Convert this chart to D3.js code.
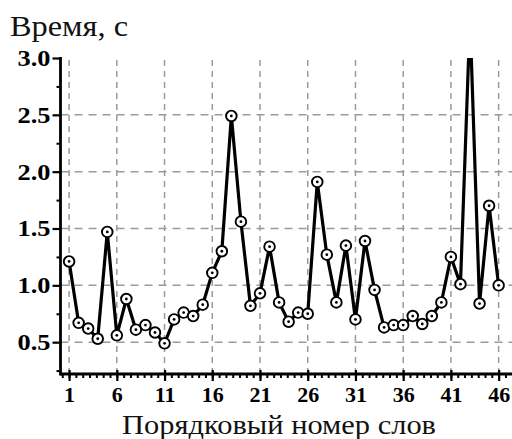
<!DOCTYPE html>
<html><head><meta charset="utf-8">
<script src="https://cdn.jsdelivr.net/npm/d3@7"></script>
<style>body{margin:0;background:#fff}svg{display:block}</style>
</head><body>
<svg id="c" width="512" height="439"></svg>
<script>
const words = d3.range(1, 47);
const times = [1.21,0.67,0.62,0.53,1.47,0.56,0.88,0.61,0.65,0.585,
  0.49,0.70,0.76,0.73,0.83,1.11,1.30,2.49,1.56,0.82,
  0.93,1.34,0.85,0.68,0.76,0.75,1.91,1.27,0.85,1.35,
  0.70,1.39,0.96,0.63,0.65,0.65,0.73,0.66,0.73,0.85,
  1.25,1.01,3.35,0.84,1.70,1.00];
const xTicks = [1,6,11,16,21,26,31,36,41,46];
const yTicks = [0.5,1.0,1.5,2.0,2.5,3.0];
const yTitle = "Время, с";
const xTitle = "Порядковый номер слов";

const svg = d3.select("#c");
const L = 60.5, R = 512, T = 58, B = 374;
const x = d3.scaleLinear().domain([0.1, 47.4]).range([L, R]);
const y = d3.scaleLinear().domain([0.22, 3.0]).range([B, T]);
const serif = "'Liberation Serif','Times New Roman',serif";

// grid
const grid = svg.append("g");
grid.selectAll("line.v").data(xTicks).join("line")
  .attr("x1", d => x(d)).attr("x2", d => x(d)).attr("y1", T + 2).attr("y2", B)
  .attr("stroke", "#9a9a9a").attr("stroke-width", 1.5).attr("stroke-dasharray", "6,5");
grid.selectAll("line.h").data(yTicks.filter(v => v < 3)).join("line")
  .attr("x1", L).attr("x2", R).attr("y1", d => y(d)).attr("y2", d => y(d))
  .attr("stroke", "#9a9a9a").attr("stroke-width", 1.5).attr("stroke-dasharray", "8,6");

// clip
svg.append("clipPath").attr("id", "clip").append("rect")
  .attr("x", L).attr("y", T).attr("width", R - L).attr("height", B - T);

const plot = svg.append("g").attr("clip-path", "url(#clip)");
const line = d3.line().x((d, i) => x(words[i])).y(d => y(d));
plot.append("path").datum(times).attr("d", line)
  .attr("fill", "none").attr("stroke", "#000").attr("stroke-width", 3.2)
  .attr("stroke-linejoin", "miter");
const mk = plot.selectAll("g.m").data(times).join("g")
  .attr("transform", (d, i) => `translate(${x(words[i])},${y(d)})`);
mk.append("circle").attr("r", 5.3).attr("fill", "#fff").attr("stroke", "#000").attr("stroke-width", 1.9);
mk.append("circle").attr("r", 1.4).attr("fill", "#000");

// x axis
const xMinor = [];
for (let k = 0; k < 80; k++) {
  const v = 1 + (k - 1) * 5 / 7;
  if (v >= 0.2 && v <= 47.3) xMinor.push(v);
}
const xa = d3.axisBottom(x).tickValues(xMinor).tickSize(4).tickFormat("");
svg.append("g").attr("transform", `translate(0,${B})`).call(xa)
  .call(g => g.select(".domain").remove())
  .call(g => g.selectAll("line").attr("stroke", "#000").attr("stroke-width", 2));
const xaM = d3.axisBottom(x).tickValues(xTicks).tickSize(7).tickPadding(5);
svg.append("g").attr("transform", `translate(0,${B})`).call(xaM)
  .call(g => g.select(".domain").remove())
  .call(g => g.selectAll("line").attr("stroke", "#000").attr("stroke-width", 2.2).attr("y1", -4))
  .call(g => g.selectAll("text").attr("font-family", serif).attr("font-weight", "bold")
    .attr("font-size", 22).attr("fill", "#000"));
svg.append("line").attr("x1", L).attr("x2", R).attr("y1", B).attr("y2", B)
  .attr("stroke", "#000").attr("stroke-width", 2.8);

// y axis
const yMinor = [0.25,0.75,1.25,1.75,2.25,2.75];
svg.append("g").attr("transform", `translate(${L},0)`)
  .call(d3.axisLeft(y).tickValues(yMinor).tickSize(4).tickFormat(""))
  .call(g => g.select(".domain").remove())
  .call(g => g.selectAll("line").attr("stroke", "#000").attr("stroke-width", 2));
svg.append("g").attr("transform", `translate(${L},0)`)
  .call(d3.axisLeft(y).tickValues(yTicks).tickSize(8).tickPadding(2).tickFormat(d3.format(".1f")))
  .call(g => g.select(".domain").remove())
  .call(g => g.selectAll("line").attr("stroke", "#000").attr("stroke-width", 2.2))
  .call(g => g.selectAll("text").attr("font-family", serif).attr("font-weight", "bold")
    .attr("font-size", 23).attr("fill", "#000")
    .attr("textLength", 33).attr("lengthAdjust", "spacingAndGlyphs"));
svg.append("line").attr("x1", L).attr("x2", L).attr("y1", T - 1).attr("y2", B + 1.4)
  .attr("stroke", "#000").attr("stroke-width", 2.8);

// titles
svg.append("text").attr("x", 10).attr("y", 36).text(yTitle)
  .attr("font-family", serif).attr("font-size", 29).attr("fill", "#111")
  .attr("textLength", 118).attr("lengthAdjust", "spacingAndGlyphs");
svg.append("text").attr("x", 122).attr("y", 434).text(xTitle)
  .attr("font-family", serif).attr("font-size", 28).attr("fill", "#111")
  .attr("textLength", 314).attr("lengthAdjust", "spacingAndGlyphs");
</script>
</body></html>
